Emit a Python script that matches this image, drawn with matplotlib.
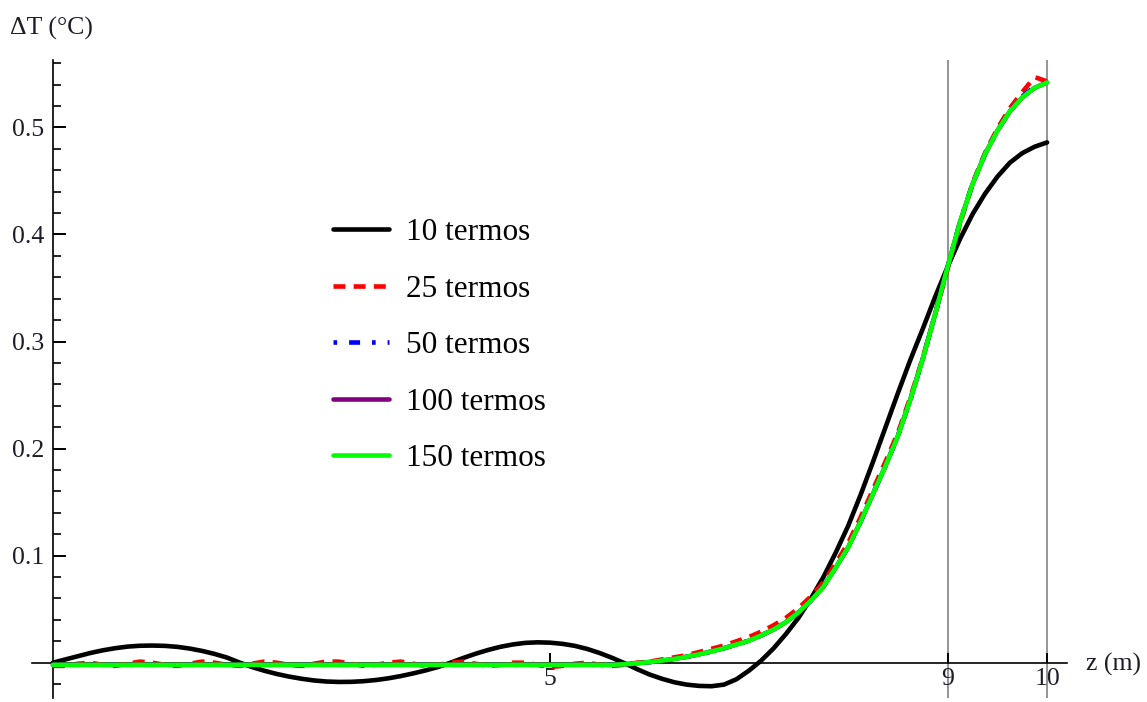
import matplotlib
matplotlib.use("Agg")
import matplotlib.pyplot as plt
from matplotlib.ticker import FixedLocator

plt.rcParams['font.family'] = ['Liberation Serif', 'DejaVu Serif']

# z positions (m), every 0.125 m from 0 to 10
z = [i * 0.125 for i in range(81)]

# delta T (C) for each number of terms
t10 = [0.000, 0.003, 0.006, 0.009, 0.0115, 0.0135, 0.015, 0.0158,      # 0 - 0.875
       0.016, 0.0157, 0.0148, 0.0132, 0.011, 0.0082, 0.0048, 0.0002,    # 1 - 1.875
       -0.004, -0.0075, -0.0105, -0.013, -0.015, -0.0166, -0.0176, -0.018,  # 2 - 2.875
       -0.0179, -0.0173, -0.0162, -0.0146, -0.0125, -0.010, -0.0072, -0.004,  # 3 - 3.875
       0.000, 0.0043, 0.0083, 0.0118, 0.0148, 0.017, 0.0185, 0.019,     # 4 - 4.875
       0.0187, 0.0176, 0.0157, 0.0128, 0.009, 0.0045, -0.0005, -0.006,  # 5 - 5.875
       -0.011, -0.015, -0.0183, -0.0205, -0.0217, -0.022, -0.0205, -0.0155,  # 6 - 6.875
       -0.0075, 0.002, 0.0135, 0.027, 0.042, 0.060, 0.080, 0.103,       # 7 - 7.875
       0.128, 0.157, 0.188, 0.220, 0.252, 0.283, 0.312, 0.342,          # 8 - 8.875
       0.370, 0.396, 0.419, 0.438, 0.454, 0.467, 0.476, 0.482,          # 9 - 9.875
       0.486]
t25 = [-0.003, -0.003, -0.001, 0.000, -0.002, -0.003, -0.001, 0.001,
       0.000, -0.002, -0.003, -0.001, 0.001, 0.000, -0.002, -0.003,
       -0.001, 0.001, 0.000, -0.002, -0.003, -0.001, 0.001, 0.001,
       -0.001, -0.003, -0.002, 0.000, 0.001, -0.001, -0.003, -0.002,
       0.000, 0.001, -0.001, -0.003, -0.002, 0.000, 0.000, -0.002,
       -0.004, -0.003, -0.001, 0.000, -0.002, -0.003, -0.002, 0.000,
       0.001, 0.003, 0.005, 0.007, 0.010, 0.013, 0.016, 0.020,
       0.024, 0.029, 0.035, 0.042, 0.051, 0.062, 0.075, 0.093,
       0.112, 0.136, 0.162, 0.188, 0.215, 0.248, 0.285, 0.326,
       0.368, 0.410, 0.448, 0.476, 0.499, 0.518, 0.533, 0.547,
       0.543]
t50 = [-0.002] * 46 + [
       -0.0015, -0.0005,
       0.0005, 0.002, 0.0035, 0.0055, 0.0078, 0.0105, 0.0135, 0.017,
       0.0205, 0.0255, 0.031, 0.038, 0.047, 0.058, 0.071, 0.089,
       0.108, 0.132, 0.158, 0.184, 0.212, 0.246, 0.284, 0.326,
       0.370, 0.412, 0.447, 0.475, 0.497, 0.515, 0.529, 0.538,
       0.542]
t100 = [-0.002] * 46 + [
       -0.0015, -0.0005,
       0.0005, 0.002, 0.0035, 0.0055, 0.0078, 0.0105, 0.0135, 0.017,
       0.0205, 0.0255, 0.031, 0.038, 0.047, 0.058, 0.071, 0.089,
       0.108, 0.132, 0.158, 0.184, 0.212, 0.246, 0.284, 0.326,
       0.370, 0.412, 0.447, 0.475, 0.497, 0.515, 0.528, 0.537,
       0.542]
t150 = [-0.002] * 46 + [
       -0.0015, -0.0005,
       0.0005, 0.002, 0.0035, 0.0055, 0.0078, 0.0105, 0.0135, 0.017,
       0.0205, 0.0255, 0.031, 0.038, 0.047, 0.058, 0.071, 0.089,
       0.108, 0.132, 0.158, 0.184, 0.212, 0.246, 0.284, 0.326,
       0.370, 0.412, 0.447, 0.475, 0.497, 0.515, 0.528, 0.537,
       0.542]

labels = ["10 termos", "25 termos", "50 termos", "100 termos", "150 termos"]
x_ticks = [5, 9, 10]
y_ticks = [0.1, 0.2, 0.3, 0.4, 0.5]
y_minor = [-0.02, 0.02, 0.04, 0.06, 0.08, 0.12, 0.14, 0.16, 0.18, 0.22, 0.24, 0.26,
           0.28, 0.32, 0.34, 0.36, 0.38, 0.42, 0.44, 0.46, 0.48, 0.52, 0.54, 0.56]

fig = plt.figure(figsize=(11.47, 7.02), dpi=100)
ax = fig.add_axes([32/1147, 1 - 698/702, (1067 - 32)/1147, (698 - 60)/702])
ax.set_xlim(-0.21, 10.2)
ax.set_ylim(-0.033, 0.563)

# vertical reference lines at 9 and 10
for xv in [9, 10]:
    ax.axvline(xv, color="#8c8c8c", lw=1.3, zorder=1)

lw = 3.3
kw = dict(lw=lw, solid_joinstyle='round', solid_capstyle='round')
ax.plot(z, t10, color="black", label=labels[0], zorder=3, **kw)
ax.plot(z, t25, color="red", ls=(0, (2.6, 1.8)), label=labels[1], zorder=3, lw=lw)
ax.plot(z, t50, color="blue", ls=(0, (0.8, 2.6, 2.4, 2.6)), label=labels[2], zorder=3, lw=lw)
ax.plot(z, t100, color="#800080", label=labels[3], zorder=3, **kw)
ax.plot(z, t150, color="#00ff00", label=labels[4], zorder=4, **kw)

# axes through the origin, mathematica style
ax.spines['left'].set_position(('data', 0))
ax.spines['bottom'].set_position(('data', 0))
ax.spines['top'].set_visible(False)
ax.spines['right'].set_visible(False)
for s in ['left', 'bottom']:
    ax.spines[s].set_linewidth(1.2)

ax.xaxis.set_major_locator(FixedLocator(x_ticks))
ax.set_xticklabels([str(v) for v in x_ticks])
ax.yaxis.set_major_locator(FixedLocator(y_ticks))
ax.set_yticklabels([f"{v:.1f}" for v in y_ticks])
ax.yaxis.set_minor_locator(FixedLocator(y_minor))
ax.tick_params(axis='y', which='major', direction='in', length=9, width=1.4,
               labelsize=18.5, pad=6, labelcolor="#1c1c2a")
ax.tick_params(axis='y', which='minor', direction='in', length=6, width=1.2)
ax.tick_params(axis='x', which='major', direction='in', length=7, width=1.4,
               labelsize=18.5, pad=4, labelcolor="#1c1c2a")

fig.text(10/1147, 1 - 28/702, "\u0394T (\u00b0C)", fontsize=18.5, va='center', ha='left', color="#1c1c2a")
fig.text(1086/1147, 1 - 664/702, "z (m)", fontsize=18.5, va='center', ha='left', color="#1c1c2a")

ax.legend(loc='upper left', bbox_to_anchor=(333/1147, 1 - 218/702), bbox_transform=fig.transFigure,
          frameon=False, fontsize=22.5, handlelength=1.8, handletextpad=0.55,
          labelspacing=0.88, borderpad=0, borderaxespad=0)

fig.savefig("out.png", dpi=100)
